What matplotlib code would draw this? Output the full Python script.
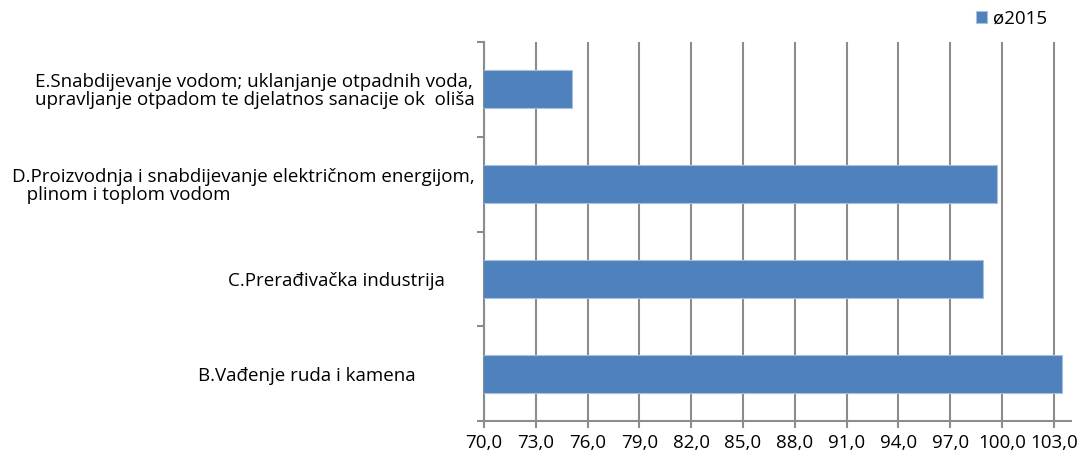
import matplotlib.pyplot as plt
from matplotlib.ticker import FuncFormatter

categories = [
    "B.Vađenje ruda i kamena            ",
    "C.Prerađivačka industrija      ",
    "D.Proizvodnja i snabdijevanje električnom energijom,\n   plinom i toplom vodom",
    "E.Snabdijevanje vodom; uklanjanje otpadnih voda,\nupravljanje otpadom te djelatnos sanacije ok  oliša",
]
values_2015 = [103.5, 98.9, 99.7, 75.1]
series_name = "ø2015"

bar_color = "#4f81bd"
grid_color = "#8c8c8c"

plt.rcParams["font.family"] = ["Open Sans", "DejaVu Sans"]

fig = plt.figure(figsize=(10.84, 4.57), dpi=100)
ax = fig.add_axes([484 / 1084, 36 / 457, (1071 - 484) / 1084, (421 - 42) / 457])

ypos = range(len(categories))
ax.barh(ypos, values_2015, height=0.4, color=bar_color, edgecolor="#a7c0de",
        linewidth=0.8, label=series_name, zorder=3)

ax.set_xlim(70, 104)
ax.set_ylim(-0.5, len(categories) - 0.5)
ax.set_xticks(range(70, 104, 3))
ax.xaxis.set_major_formatter(FuncFormatter(lambda v, p: f"{v:.1f}".replace(".", ",")))
ax.grid(axis="x", color=grid_color, linewidth=1.5, zorder=0)

ax.set_yticks([y + 0.5 for y in range(-1, len(categories))], minor=False)
ax.set_yticklabels([])
ax.set_yticks(list(ypos), minor=True)
ax.set_yticklabels(categories, minor=True, fontsize=13.5, ha="right",
                   multialignment="left", linespacing=1.0)
ax.tick_params(axis="y", which="minor", length=0, pad=7)
ax.tick_params(axis="y", which="major", length=5, color=grid_color, width=1.5)
ax.tick_params(axis="x", length=5, color=grid_color, width=1.5, labelsize=13.5, pad=4)

for side in ["top", "right"]:
    ax.spines[side].set_visible(False)
for side in ["left", "bottom"]:
    ax.spines[side].set_color(grid_color)
    ax.spines[side].set_linewidth(1.5)

fig.legend(loc="upper right", bbox_to_anchor=(1064 / 1084, 1.015), frameon=False,
           fontsize=13.5, handlelength=0.6, handleheight=0.6, handletextpad=0.3)

plt.savefig("out.png", dpi=100)
